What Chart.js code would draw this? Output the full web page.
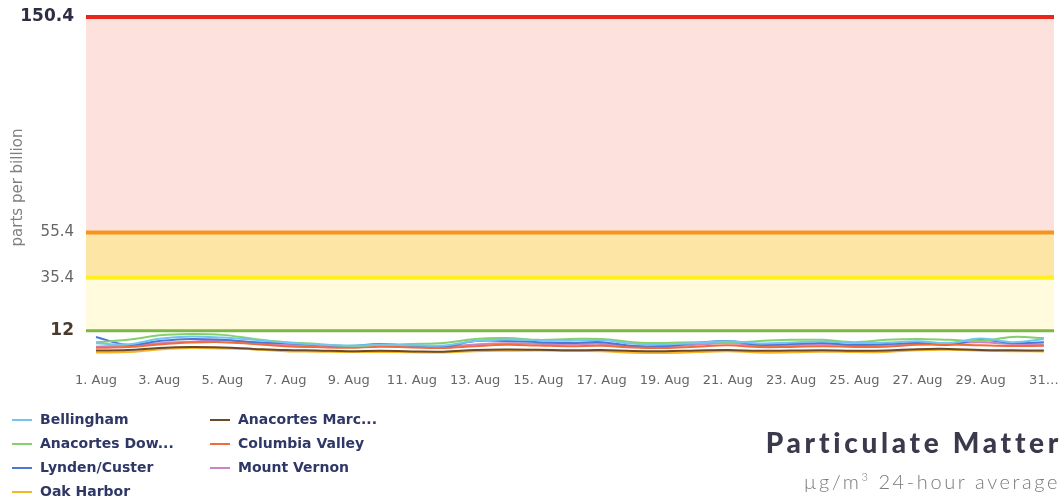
<!DOCTYPE html>
<html>
<head>
<meta charset="utf-8">
<script src="https://cdn.jsdelivr.net/npm/chart.js@4.4.1/dist/chart.umd.min.js"></script>
<style>
  body { margin: 0; background: #fff; }
  #wrap { position: relative; width: 1063px; height: 498px; overflow: hidden; }
  #legend { position: absolute; left: 0; top: 411px; width: 420px; }
  .item { position: absolute; font: bold 14px "DejaVu Sans", sans-serif; color: #2e3766; white-space: nowrap; }
  .item span.sw { position: absolute; left: 0; top: 8px; width: 20px; height: 0; border-top: 2px solid; }
  .item span.tx { position: absolute; left: 28px; top: 0; }
  #title { position: absolute; right: 1px; top: 425px; font: 900 28px Lato, sans-serif; color: #3b3a4c; letter-spacing: 3.7px; }
  #subtitle { position: absolute; right: 3px; top: 469px; font: 300 20px Lato, sans-serif; color: #7a7a7a; letter-spacing: 2.6px; }
</style>
</head>
<body>
<div id="wrap">
  <canvas id="myChart" width="1063" height="498"></canvas>
  <div id="legend"></div>
  <div id="title">Particulate Matter</div>
  <div id="subtitle">µg/m<sup style="font-size:11px">3</sup> 24-hour average</div>
</div>
<script>
'use strict';

// ====================== DATA ======================//
let categories = ['1. Aug', '2. Aug', '3. Aug', '4. Aug', '5. Aug', '6. Aug', '7. Aug', '8. Aug',
  '9. Aug', '10. Aug', '11. Aug', '12. Aug', '13. Aug', '14. Aug', '15. Aug', '16. Aug',
  '17. Aug', '18. Aug', '19. Aug', '20. Aug', '21. Aug', '22. Aug', '23. Aug', '24. Aug',
  '25. Aug', '26. Aug', '27. Aug', '28. Aug', '29. Aug', '30. Aug', '31. Aug'];

let yTicks = [12, 35.4, 55.4, 150.4];

// AQI-like levels that the bands sit between
let levels = [12, 35.4, 55.4, 150.4];

let bellingham = [6.5, 6.0, 8.5, 9.5, 9.0, 8.0, 6.8, 6.0, 5.5, 5.8, 5.6, 5.5, 7.5, 8.2, 7.8, 7.6,
  7.9, 6.3, 6.0, 6.6, 7.4, 6.4, 6.8, 7.3, 6.6, 6.8, 7.4, 6.6, 8.6, 7.0, 8.3];
let anacortesDow = [7.0, 8.0, 10.0, 10.6, 10.2, 8.4, 7.0, 6.2, 5.3, 5.8, 6.2, 6.6, 8.4, 8.8, 8.0, 8.4,
  8.4, 7.0, 6.6, 7.0, 6.6, 7.5, 8.0, 8.0, 7.0, 8.0, 8.4, 8.0, 7.5, 9.3, 8.8];
let lynden = [9.3, 5.8, 7.5, 8.4, 8.0, 7.0, 6.6, 5.8, 5.3, 6.2, 5.3, 4.9, 7.5, 7.5, 7.0, 6.6,
  7.0, 5.3, 5.3, 6.6, 7.5, 5.8, 6.2, 6.6, 5.8, 6.2, 6.6, 5.8, 8.0, 6.6, 7.0];
let oakHarbor = [2.4, 2.6, 3.8, 4.4, 4.2, 3.8, 3.0, 2.8, 2.6, 2.7, 2.5, 2.4, 3.0, 3.2, 3.3, 3.1,
  3.0, 2.3, 2.2, 2.6, 3.0, 2.4, 2.5, 2.8, 2.6, 2.7, 3.4, 3.6, 3.2, 3.0, 2.9];
let anacortesMarc = [3.3, 3.5, 4.4, 4.8, 4.6, 4.0, 3.5, 3.3, 3.0, 3.2, 2.9, 2.8, 3.5, 3.7, 3.6, 3.4,
  3.5, 3.1, 3.0, 3.3, 3.5, 3.2, 3.3, 3.4, 3.2, 3.3, 3.9, 4.0, 3.5, 3.4, 3.3];
let columbiaValley = [4.5, 4.8, 6.0, 6.8, 7.0, 6.2, 5.2, 4.8, 4.5, 5.0, 4.6, 4.4, 5.2, 5.8, 5.5, 5.2,
  5.4, 4.6, 4.4, 5.0, 5.6, 4.8, 4.9, 5.2, 4.9, 5.0, 5.8, 6.0, 5.6, 5.3, 5.4];
let mountVernon = [5.0, 5.5, 6.5, 7.2, 7.8, 6.8, 5.8, 5.4, 5.0, 5.6, 5.2, 5.0, 6.0, 6.5, 6.3, 6.0,
  6.2, 5.2, 5.0, 5.8, 6.6, 5.4, 5.6, 6.0, 5.6, 5.7, 6.4, 6.6, 6.9, 6.2, 6.0];

// ====================== STYLES ======================//
let bandFills = ['#fffbdc', '#fde5a6', '#fde1dc'];
let levelLines = ['#7cb843', '#fff01e', '#f7941d', '#e8261c'];

let allSeries = [
  { name: 'Bellingham', data: bellingham, color: '#72c6ee' },
  { name: 'Anacortes Marc...', data: anacortesMarc, color: '#6b4a2a' },
  { name: 'Anacortes Dow...', data: anacortesDow, color: '#86cf6c' },
  { name: 'Columbia Valley', data: columbiaValley, color: '#f26b3a' },
  { name: 'Lynden/Custer', data: lynden, color: '#4b78d6' },
  { name: 'Mount Vernon', data: mountVernon, color: '#c985c4' },
  { name: 'Oak Harbor', data: oakHarbor, color: '#f5b528' }
];

// ====================== BANDS PLUGIN ======================//
let bandsPlugin = {
  id: 'bands',
  beforeDatasetsDraw(chart) {
    let ctx = chart.ctx;
    let area = chart.chartArea;
    let y = chart.scales.y;
    ctx.save();
    for (let i = 0; i < levels.length - 1; i++) {
      let top = y.getPixelForValue(levels[i + 1]);
      let bot = y.getPixelForValue(levels[i]);
      ctx.fillStyle = bandFills[i];
      ctx.fillRect(area.left, top, area.right - area.left, bot - top);
    }
    for (let i = 0; i < levels.length; i++) {
      let py = y.getPixelForValue(levels[i]);
      ctx.strokeStyle = levelLines[i];
      ctx.lineWidth = i === 0 ? 3 : 4;
      ctx.beginPath();
      ctx.moveTo(area.left, py);
      ctx.lineTo(area.right, py);
      ctx.stroke();
    }
    ctx.restore();
  }
};

// ====================== CHART ======================//
let datasets = allSeries.map(s => ({
  label: s.name,
  data: s.data.map((v, i) => ({ x: i + 1, y: v })),
  borderColor: s.color,
  borderWidth: 2,
  pointRadius: 0,
  tension: 0.4,
  fill: false
}));

let tickWeights = { 12: 'bold', 35.4: 'normal', 55.4: 'normal', 150.4: 'bold' };
let tickColors = { 12: '#4b3b2e', 35.4: '#666666', 55.4: '#666666', 150.4: '#2d2d45' };

function tickValue(c) {
  return c && c.tick ? c.tick.value : 35.4;
}

let chartObject = {
  type: 'line',
  data: { datasets: datasets },
  options: {
    responsive: false,
    animation: false,
    devicePixelRatio: 1,
    layout: { padding: { top: 17, right: 9, bottom: 100, left: 0 } },
    plugins: { legend: { display: false }, tooltip: { enabled: false } },
    scales: {
      x: {
        type: 'linear',
        min: 0.684,
        max: 31.32,
        grid: { display: false },
        border: { display: false },
        afterFit: scale => {
          scale.height = 40;
          scale.paddingRight = 0;
        },
        afterBuildTicks: scale => {
          scale.ticks = categories.map((c, i) => ({ value: i + 1 })).filter((t, i) => i % 2 === 0);
        },
        ticks: {
          autoSkip: false,
          maxRotation: 0,
          padding: 7,
          color: '#666666',
          font: { family: 'DejaVu Sans', size: 13 },
          callback: value => value === categories.length ? '31\u2026' : categories[value - 1]
        }
      },
      y: {
        min: 0,
        max: 150.4,
        grid: { display: false },
        border: { display: false },
        afterFit: scale => { scale.width = 86; },
        afterBuildTicks: scale => { scale.ticks = yTicks.map(v => ({ value: v })); },
        title: {
          display: true,
          text: 'parts per billion',
          color: '#808080',
          font: { family: 'DejaVu Sans', size: 15 },
          padding: { top: 9, bottom: 0 }
        },
        ticks: {
          padding: 4,
          color: c => tickColors[tickValue(c)],
          font: c => {
            let v = tickValue(c);
            return { family: 'DejaVu Sans', size: v === 150.4 || v === 12 ? 17 : 15, weight: tickWeights[v] };
          },
          callback: value => String(value)
        }
      }
    }
  },
  plugins: [bandsPlugin]
};

let ctx = document.getElementById('myChart').getContext('2d');
let myChart = new Chart(ctx, chartObject);

// ====================== LEGEND ======================//
let legendBox = document.getElementById('legend');
allSeries.forEach((s, i) => {
  let item = document.createElement('div');
  item.className = 'item';
  item.style.left = (i % 2 === 0 ? 12 : 210) + 'px';
  item.style.top = (Math.floor(i / 2) * 24) + 'px';
  let sw = document.createElement('span');
  sw.className = 'sw';
  sw.style.borderTopColor = s.color;
  let tx = document.createElement('span');
  tx.className = 'tx';
  tx.textContent = s.name;
  item.appendChild(sw);
  item.appendChild(tx);
  legendBox.appendChild(item);
});
</script>
</body>
</html>
